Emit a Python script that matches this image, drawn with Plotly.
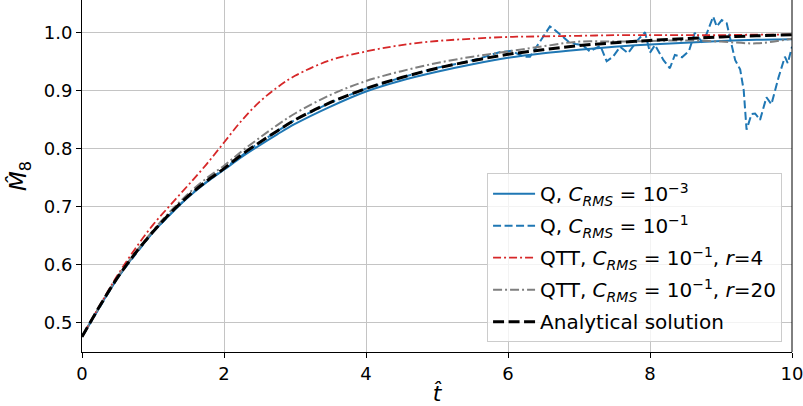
import plotly.graph_objects as go

# Time grid for the smooth curves
t_smooth = [0, 0.25, 0.5, 0.75, 1, 1.25, 1.5, 1.75, 2, 2.25, 2.5, 2.75, 3, 3.5,
            4, 4.5, 5, 5.5, 6, 6.5, 7, 7.5, 8, 8.5, 9, 9.5, 10]

# Analytical solution
m_analytical = [0.475, 0.528, 0.577, 0.619, 0.656, 0.689, 0.718, 0.743, 0.765, 0.789,
                0.810, 0.830, 0.849, 0.879, 0.903, 0.922, 0.938, 0.951, 0.962, 0.970,
                0.977, 0.982, 0.986, 0.989, 0.992, 0.994, 0.996]

# Q, C_RMS = 1e-3
m_q_fine = [0.475, 0.527, 0.576, 0.618, 0.655, 0.687, 0.716, 0.741, 0.763, 0.785,
            0.805, 0.824, 0.842, 0.872, 0.898, 0.917, 0.932, 0.945, 0.956, 0.964,
            0.970, 0.975, 0.979, 0.982, 0.985, 0.987, 0.988]

# QTT, C_RMS = 1e-1, r = 4
m_qtt_r4 = [0.475, 0.529, 0.581, 0.627, 0.668, 0.703, 0.737, 0.772, 0.810, 0.848,
            0.880, 0.905, 0.925, 0.952, 0.967, 0.978, 0.985, 0.989, 0.992, 0.993,
            0.994, 0.995, 0.995, 0.995, 0.995, 0.996, 0.996]

# QTT, C_RMS = 1e-1, r = 20
m_qtt_r20 = [0.475, 0.528, 0.578, 0.620, 0.658, 0.692, 0.722, 0.748, 0.770, 0.795,
             0.818, 0.840, 0.860, 0.892, 0.916, 0.933, 0.947, 0.958, 0.967, 0.976,
             0.984, 0.984, 0.985, 0.986, 0.984, 0.981, 0.989]

# Q, C_RMS = 1e-1 (noisy run)
t_q_coarse = [0, 0.5, 1, 1.5, 2, 2.5, 3, 3.5, 4, 4.5, 5, 5.3, 5.6, 5.89, 6.05, 6.22,
              6.31, 6.40, 6.59, 6.66, 6.75, 6.85, 6.95, 7.05, 7.15, 7.3, 7.39, 7.48,
              7.58, 7.69, 7.83, 7.93, 8.0, 8.07, 8.19, 8.28, 8.35, 8.45, 8.55, 8.63,
              8.73, 8.8, 8.89, 8.94, 9.01, 9.08, 9.15, 9.2, 9.27, 9.32, 9.36, 9.43,
              9.48, 9.55, 9.64, 9.71, 9.81, 9.9, 9.94, 10.0]
m_q_coarse = [0.475, 0.577, 0.656, 0.718, 0.765, 0.810, 0.849, 0.879, 0.903, 0.922,
              0.939, 0.946, 0.955, 0.966, 0.968, 0.958, 0.958, 0.975, 1.010, 1.004,
              0.995, 0.984, 0.980, 0.978, 0.967, 0.977, 0.950, 0.958, 0.975, 0.964,
              0.987, 1.000, 0.965, 0.978, 0.952, 0.938, 0.961, 0.957, 0.968, 0.999,
              0.984, 0.998, 1.027, 1.010, 1.021, 1.016, 0.978, 0.952, 0.936, 0.900,
              0.832, 0.859, 0.860, 0.849, 0.888, 0.876, 0.922, 0.958, 0.947, 0.975]

x_ticks = [0, 2, 4, 6, 8, 10]
y_ticks = [0.5, 0.6, 0.7, 0.8, 0.9, 1.0]

FONT = "DejaVu Sans"
BLUE = "#1f77b4"
RED = "#d62728"
GRAY = "#7f7f7f"

fig = go.Figure()

fig.add_trace(go.Scatter(
    x=t_smooth, y=m_q_fine, mode="lines", line_shape="spline", legendgroup="a",
    line=dict(color=BLUE, width=2),
    name="Q, <i>C</i><sub><i>RMS</i></sub> = 10<sup>−3</sup>"))
fig.add_trace(go.Scatter(
    x=t_q_coarse, y=m_q_coarse, mode="lines", legendgroup="b",
    line=dict(color=BLUE, width=2, dash="8px,3.5px"),
    name="Q, <i>C</i><sub><i>RMS</i></sub> = 10<sup>−1</sup>"))
fig.add_trace(go.Scatter(
    x=t_smooth, y=m_qtt_r4, mode="lines", line_shape="spline", legendgroup="c",
    line=dict(color=RED, width=1.8, dash="8px,3px,2px,3px"),
    name="QTT, <i>C</i><sub><i>RMS</i></sub> = 10<sup>−1</sup>, <i>r</i>=4"))
fig.add_trace(go.Scatter(
    x=t_smooth, y=m_qtt_r20, mode="lines", line_shape="spline", legendgroup="d",
    line=dict(color=GRAY, width=2, dash="9px,3px,2px,3px"),
    name="QTT, <i>C</i><sub><i>RMS</i></sub> = 10<sup>−1</sup>, <i>r</i>=20"))
fig.add_trace(go.Scatter(
    x=t_smooth, y=m_analytical, mode="lines", line_shape="spline", legendgroup="e",
    line=dict(color="black", width=3, dash="11px,4.5px"),
    name="Analytical solution"))

axis_common = dict(
    showgrid=True, gridcolor="#c4c4c4", gridwidth=1,
    showline=True, linecolor="black", linewidth=1,
    ticks="outside", ticklen=5, tickwidth=1, tickcolor="black",
    zeroline=False, ticklabeloverflow="allow",
    tickfont=dict(family=FONT, size=18, color="black"),
)

fig.update_xaxes(
    range=[0, 10], tickvals=x_ticks, ticktext=[str(v) for v in x_ticks],
    title=dict(text="<i>t̂</i>", font=dict(family=FONT, size=22, color="black"), standoff=8),
    **axis_common)
fig.update_yaxes(
    range=[0.4488, 1.0557], tickvals=y_ticks, ticktext=[f"{v:.1f}" for v in y_ticks],
    title=dict(text="<i>M̂</i><sub>8</sub>", font=dict(family=FONT, size=23, color="black"), standoff=10),
    **axis_common)

# right-hand frame line
fig.add_shape(type="line", xref="paper", yref="paper", x0=1, x1=1, y0=0, y1=1,
              line=dict(color="black", width=1))

fig.update_layout(
    width=803, height=406,
    margin=dict(l=82, r=11, t=0, b=54),
    plot_bgcolor="white", paper_bgcolor="white",
    font=dict(family=FONT, color="black"),
    showlegend=True,
    legend=dict(
        x=0.986, y=0.028, xanchor="right", yanchor="bottom",
        bgcolor="rgba(255,255,255,0.8)", bordercolor="#cccccc", borderwidth=1,
        font=dict(family=FONT, size=20, color="black"),
        itemwidth=42, tracegroupgap=3,
    ),
)

fig.write_html("out.html")
